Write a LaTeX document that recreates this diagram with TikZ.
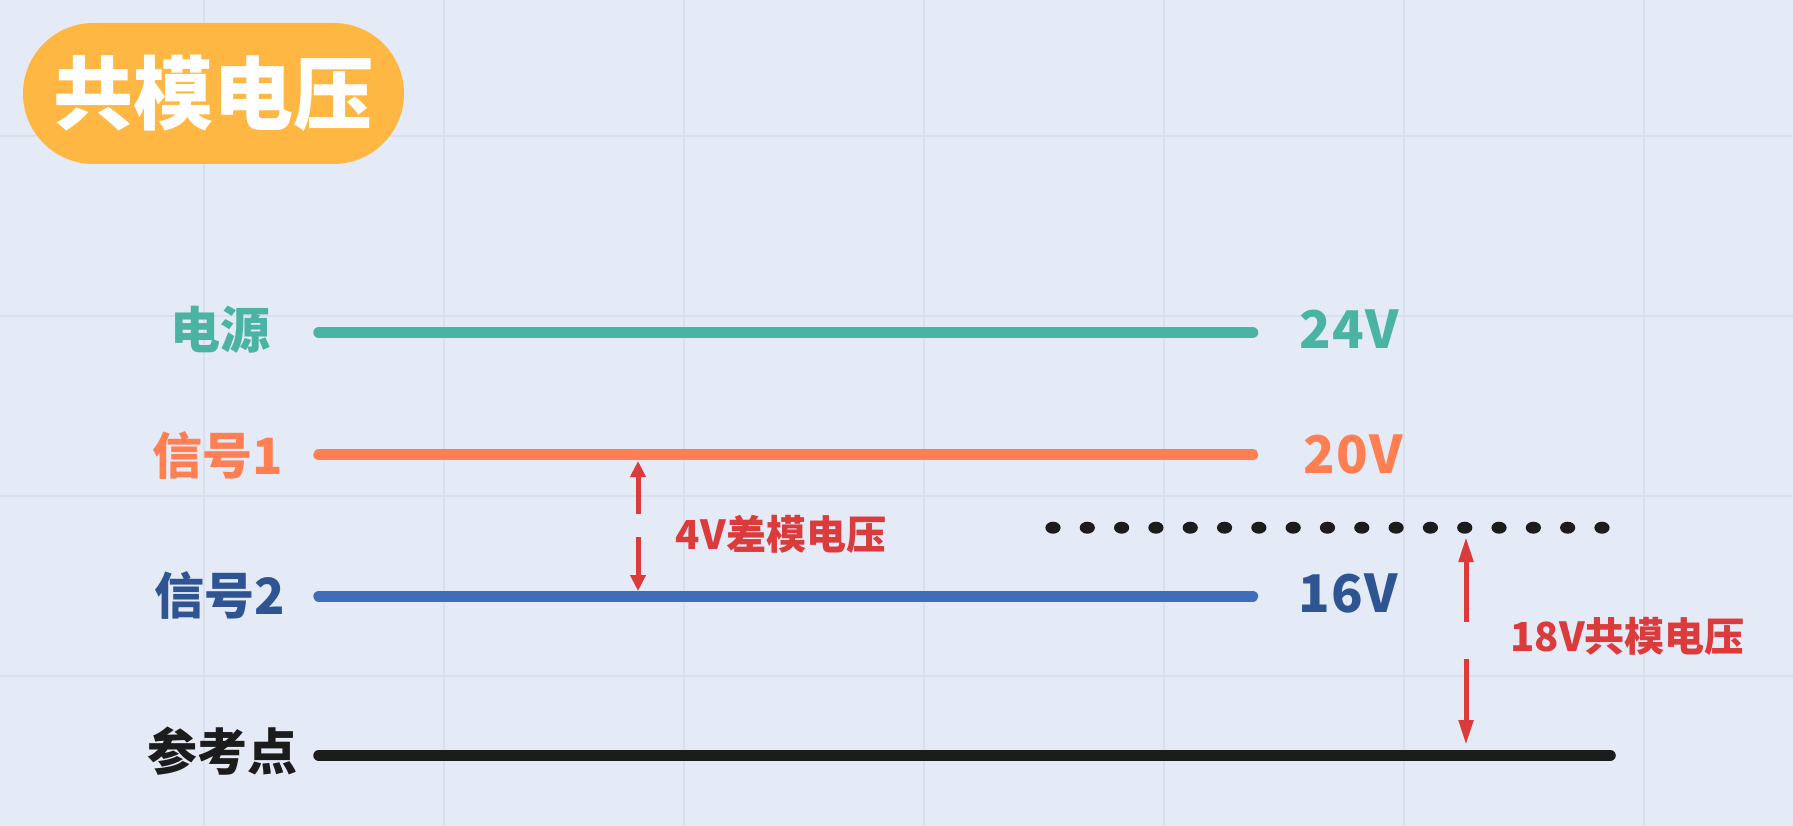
\documentclass[tikz,border=0pt]{standalone}
\usepackage{fontspec}
\setmainfont{Noto Sans CJK SC}
\usetikzlibrary{arrows.meta,shapes.misc}
\definecolor{bg}{HTML}{E4EAF6}
\definecolor{gridc}{HTML}{D9DFEE}
\definecolor{pill}{HTML}{FFB743}
\definecolor{teal}{HTML}{4BB3A3}
\definecolor{orng}{HTML}{FF7F52}
\definecolor{blueline}{HTML}{3F6DB8}
\definecolor{bluetext}{HTML}{2E5592}
\definecolor{redc}{HTML}{DC3B3B}
\definecolor{blk}{HTML}{1C1C1C}
\tikzset{
  lbl/.style={inner sep=0pt, anchor=center, font=\fontsize{50}{60}\selectfont\bfseries},
  val/.style={inner sep=0pt, anchor=center, font=\fontsize{52}{62}\selectfont\bfseries\addfontfeature{LetterSpace=3}},
  note/.style={inner sep=0pt, anchor=center, text=redc, font=\fontsize{40}{48}\selectfont\bfseries},
  level/.style={line width=11.5pt, line cap=round},
  arrA/.style={draw=redc, line width=5pt, -{Triangle[length=16pt,width=15pt]}},
  arrB/.style={draw=redc, line width=5pt, -{Triangle[length=25pt,width=14pt]}},
}
\begin{document}
\begin{tikzpicture}[x=1pt,y=-1pt]
\useasboundingbox (0,0) rectangle (1793,826);
\fill[bg] (0,0) rectangle (1793,826);
% grid
\foreach \gx in {204,444,684,924,1164,1404,1644}
  \draw[gridc, line width=1.3pt] (\gx,0) -- (\gx,826);
\foreach \gy in {136,316,496,676}
  \draw[gridc, line width=1.3pt] (0,\gy) -- (1793,\gy);
% title
\node[rounded rectangle, fill=pill, minimum width=381pt, minimum height=141pt, inner sep=0pt,
      text=white, font=\fontsize{80}{90}\selectfont\bfseries] (title) at (213.5,93.5) {共模电压};
% level lines
\coordinate (pL) at (319,332.5);  \coordinate (pR) at (1252.5,332.5);
\coordinate (s1L) at (319,454.7); \coordinate (s1R) at (1252.5,454.7);
\coordinate (s2L) at (319,596.3); \coordinate (s2R) at (1252.5,596.3);
\coordinate (gL) at (319,755.5);  \coordinate (gR) at (1610,755.5);
\draw[level, teal] (pL) -- (pR);
\draw[level, orng] (s1L) -- (s1R);
\draw[level, blueline] (s2L) -- (s2R);
\draw[level, blk] (gL) -- (gR);
% dotted common-mode level
\foreach \i in {0,...,16}
  \fill[blk] ({1053+34.31*\i},527.7) ellipse (7.6pt and 6pt);
% labels
\node[lbl, text=teal] (lp) at (220.5,330) {电源};
\node[lbl, text=orng] (ls1) at (218,455.5) {信号1};
\node[lbl, text=bluetext] (ls2) at (219.5,595.5) {信号2};
\node[lbl, text=blk] (lg) at (222,751.5) {参考点};
\node[val, text=teal] (vp) at (1349.5,329) {24V};
\node[val, text=orng] (vs1) at (1353,454) {20V};
\node[val, text=bluetext] (vs2) at (1348,593.5) {16V};
% annotations
\node[note] (dm) at (781,534) {4V差模电压};
\node[note] (cm) at (1627.5,636) {18V共模电压};
% arrows
\coordinate (a1t) at (638,514);  \coordinate (a1tip) at (638,461);
\coordinate (a1b) at (638,537);  \coordinate (a1bip) at (638,591);
\coordinate (a2t) at (1466,622); \coordinate (a2tip) at (1466,537);
\coordinate (a2b) at (1466,659); \coordinate (a2bip) at (1466,745);
\draw[arrA] (a1t) -- (a1tip);
\draw[arrA] (a1b) -- (a1bip);
\draw[arrB] (a2t) -- (a2tip);
\draw[arrB] (a2b) -- (a2bip);
\end{tikzpicture}
\end{document}
